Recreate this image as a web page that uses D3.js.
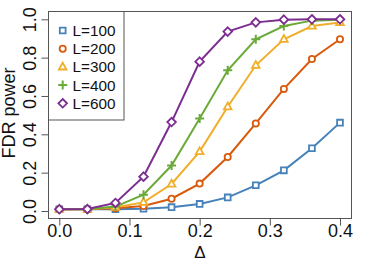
<!DOCTYPE html>
<html>
<head>
<meta charset="utf-8">
<script src="https://cdn.jsdelivr.net/npm/d3@7"></script>
<style>
  body { margin: 0; background: #fff; }
  text { font-family: "Liberation Sans", Arial, sans-serif; fill: #111; }
</style>
</head>
<body>
<svg id="chart" width="374" height="267"></svg>
<script>
// Delta values on the x axis
const deltas = [0, 0.04, 0.08, 0.12, 0.16, 0.2, 0.24, 0.28, 0.32, 0.36, 0.4];

// FDR power per series
const power100 = [0.009, 0.009, 0.009, 0.012, 0.02, 0.037, 0.071, 0.134, 0.212, 0.327, 0.461];
const power200 = [0.009, 0.009, 0.014, 0.026, 0.064, 0.143, 0.282, 0.457, 0.637, 0.793, 0.896];
const power300 = [0.009, 0.009, 0.02, 0.045, 0.141, 0.31, 0.544, 0.76, 0.896, 0.965, 0.983];
const power400 = [0.009, 0.009, 0.023, 0.085, 0.237, 0.483, 0.734, 0.896, 0.965, 0.993, 0.997];
const power600 = [0.009, 0.01, 0.042, 0.179, 0.464, 0.779, 0.936, 0.984, 0.998, 1.0, 1.0];

const seriesNames = ["L=100", "L=200", "L=300", "L=400", "L=600"];
const xTicks = [0, 0.1, 0.2, 0.3, 0.4];
const yTicks = [0, 0.2, 0.4, 0.6, 0.8, 1.0];

const series = [
  { name: seriesNames[0], values: power100, color: "#4682b9", shape: "square" },
  { name: seriesNames[1], values: power200, color: "#d95a0c", shape: "circle" },
  { name: seriesNames[2], values: power300, color: "#f0ae2a", shape: "triangle" },
  { name: seriesNames[3], values: power400, color: "#6aaa38", shape: "plus" },
  { name: seriesNames[4], values: power600, color: "#7b2d90", shape: "diamond" }
];

// plot box
const box = { left: 48.5, right: 351.5, top: 11.5, bottom: 218.5 };

const svg = d3.select("#chart");

const x = d3.scaleLinear().domain([0, 0.4]).range([59.3, 340]);
const y = d3.scaleLinear().domain([0, 1]).range([211, 19.3]);

// marker shapes, R pch 0,1,2,3,5 style
function shapePath(shape) {
  switch (shape) {
    case "square": return "M-2.9,-2.9H2.9V2.9H-2.9Z";
    case "circle": return d3.symbol().type(d3.symbolCircle).size(30)();
    case "triangle": return "M0,-4.2L3.8,2.6H-3.8Z";
    case "plus": return "M-4.5,0H4.5M0,-4.5V4.5";
    case "diamond": return "M0,-4.3L4.3,0L0,4.3L-4.3,0Z";
  }
}

function marker(g, d, cx, cy) {
  g.append("path")
    .attr("d", shapePath(d.shape))
    .attr("transform", "translate(" + cx + "," + cy + ")")
    .attr("fill", d.shape === "plus" ? "none" : "#fff")
    .attr("stroke", d.color)
    .attr("stroke-width", d.shape === "plus" ? 2 : 1.8);
}

// lines + points
const line = d3.line()
  .x((v, i) => x(deltas[i]))
  .y(v => y(v));

series.forEach(function(s) {
  const g = svg.append("g");
  g.append("path")
    .attr("d", line(s.values))
    .attr("fill", "none")
    .attr("stroke", s.color)
    .attr("stroke-width", 2);
  s.values.forEach(function(v, i) {
    marker(g, s, x(deltas[i]), y(v));
  });
});

// box
svg.append("rect")
  .attr("x", box.left)
  .attr("y", box.top)
  .attr("width", box.right - box.left)
  .attr("height", box.bottom - box.top)
  .attr("fill", "none")
  .attr("stroke", "#555")
  .attr("stroke-width", 1);

// x axis
const xAxis = svg.append("g")
  .attr("transform", "translate(0," + box.bottom + ")")
  .call(d3.axisBottom(x).tickValues(xTicks).tickSize(7).tickFormat(d3.format(".1f")));
xAxis.select(".domain").remove();
xAxis.selectAll("line").attr("stroke", "#555");
xAxis.selectAll("text")
  .attr("y", 18.5)
  .attr("dy", null)
  .attr("font-size", 18)
  .attr("font-family", "Liberation Sans, Arial, sans-serif")
  .attr("fill", "#111");

// y axis, labels rotated like base R
const yAxis = svg.append("g")
  .attr("transform", "translate(" + box.left + ",0)")
  .call(d3.axisLeft(y).tickValues(yTicks).tickSize(7).tickFormat(d3.format(".1f")));
yAxis.select(".domain").remove();
yAxis.selectAll("line").attr("stroke", "#555");
yAxis.selectAll("text")
  .attr("x", null)
  .attr("dy", null)
  .attr("text-anchor", "middle")
  .attr("transform", "translate(-12.5,0) rotate(-90)")
  .attr("font-size", 18)
  .attr("font-family", "Liberation Sans, Arial, sans-serif")
  .attr("fill", "#111");

// axis titles
svg.append("text")
  .attr("x", (box.left + box.right) / 2)
  .attr("y", 258)
  .attr("text-anchor", "middle")
  .attr("font-size", 17)
  .text("\u0394");

svg.append("text")
  .attr("transform", "translate(15," + 113 + ") rotate(-90)")
  .attr("text-anchor", "middle")
  .attr("font-size", 18)
  .text("FDR power");

// legend
const legend = svg.append("g");
legend.append("rect")
  .attr("x", box.left)
  .attr("y", box.top)
  .attr("width", 75.5)
  .attr("height", 108.5)
  .attr("fill", "#fff")
  .attr("stroke", "#555")
  .attr("stroke-width", 1);

series.forEach(function(s, i) {
  const ly = 30.5 + i * 18.2;
  marker(legend, s, 62.7, ly);
  legend.append("text")
    .attr("x", 72.5)
    .attr("y", ly + 5.5)
    .attr("font-size", 15.3)
    .text(s.name);
});
</script>
</body>
</html>
